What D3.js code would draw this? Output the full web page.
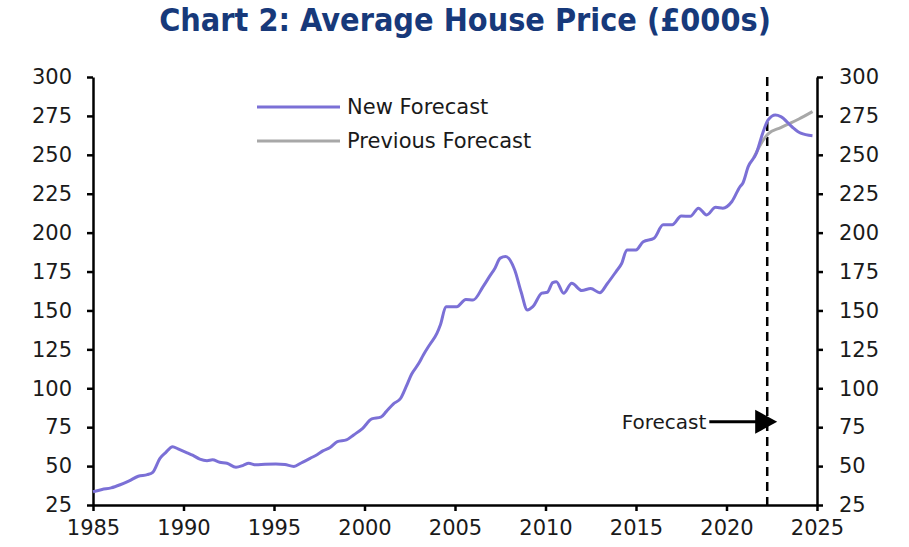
<!DOCTYPE html>
<html><head><meta charset="utf-8">
<script src="https://cdn.jsdelivr.net/npm/d3@7"></script>
<style>
html,body{margin:0;padding:0;background:#fff;}
svg{display:block;}
text{font-family:"DejaVu Sans",sans-serif;fill:#1a1a1a;}
</style></head>
<body>
<svg id="chart" width="909" height="547"></svg>
<script>
const titleText = "Chart 2: Average House Price (£000s)";
const newYears = [1985.0,1985.5,1986.0,1986.5,1987.0,1987.5,1988.0,1988.3,1988.7,1989.0,1989.4,1989.7,1990.2,1990.5,1990.9,1991.3,1991.6,1992.0,1992.4,1992.9,1993.3,1993.6,1994.0,1994.5,1995.1,1995.6,1996.1,1996.5,1997.0,1997.4,1997.7,1998.1,1998.5,1999.0,1999.4,1999.9,2000.4,2000.9,2001.2,2001.6,2002.0,2002.3,2002.6,2003.0,2003.25,2003.6,2004.0,2004.2,2004.5,2005.1,2005.6,2006.0,2006.55,2006.9,2007.2,2007.5,2007.8,2008.3,2008.65,2009.0,2009.3,2009.8,2010.1,2010.4,2010.6,2011.0,2011.45,2012.0,2012.5,2013.0,2013.4,2013.9,2014.2,2014.5,2015.0,2015.4,2016.0,2016.5,2017.0,2017.5,2018.0,2018.45,2018.9,2019.4,2019.8,2020.3,2020.75,2020.9,2021.2,2021.65,2022.0,2022.3,2022.7,2023.0,2023.6,2024.1,2024.75];
const newValues = [33.5,35,36,38,40.5,43.5,44.5,46,55,58.5,62.5,61,58.5,57,54.5,53.5,54,52.5,51.8,49.3,50.5,51.8,50.8,51.2,51.4,51,49.8,52,55,57.5,59.8,62,65.7,66.8,70,74.3,80.3,81.4,85,90,93.6,101,109,116,121.4,128,135.3,141,152.4,152.4,157.1,156.7,165.3,171.7,177,183.6,184.6,176,162,150.3,152.4,161.1,161.7,167.9,168.5,161.1,167.5,162.8,164.1,161.4,167,175,180,188.9,188.9,194.2,196.4,205,205,210.7,210.5,215.7,211.4,216.3,215.7,220,229.6,231.7,242.4,251,263.9,272.4,275.6,274.6,268.2,263.9,262.2];
const prevYears = [2021.5,2022.0,2022.3,2023.0,2024.0,2024.75];
const prevValues = [248,259,263.5,267.5,273,277.8];
const xTicks = [1985,1990,1995,2000,2005,2010,2015,2020,2025];
const yTicks = [25,50,75,100,125,150,175,200,225,250,275,300];
const seriesNames = ["New Forecast","Previous Forecast"];
const forecastYear = 2022.25;
const forecastLabel = "Forecast";
const arrowStart = 2019.05, arrowEnd = 2022.8, arrowValue = 78.5;

const svg = d3.select("#chart");
const x = d3.scaleLinear().domain([1985,2025]).range([93,817]);
const y = d3.scaleLinear().domain([25,300]).range([505,77]);
const purple = "#7b70d6", grey = "#a8a8a8";

// title
const t = svg.append("text").attr("x",465).attr("y",31).attr("text-anchor","middle")
  .style("font-family","'DejaVu Sans Condensed','DejaVu Sans',sans-serif")
  .style("font-weight","bold").style("font-size","32px").style("fill","#17397a").text(titleText);
const w = t.node().getComputedTextLength();
t.style("font-size",(32*612/w)+"px");

// axes
const fs = "21px";
const left = svg.append("g").attr("transform","translate(93,0)")
  .call(d3.axisLeft(y).tickValues(yTicks).tickSize(6).tickPadding(15).tickSizeOuter(0));
const right = svg.append("g").attr("transform","translate(817,0)")
  .call(d3.axisRight(y).tickValues(yTicks).tickSize(6).tickPadding(16).tickSizeOuter(0));
const bottom = svg.append("g").attr("transform","translate(0,505)")
  .call(d3.axisBottom(x).tickValues(xTicks).tickFormat(d3.format("d")).tickSize(6).tickPadding(9).tickSizeOuter(0));
[left,right,bottom].forEach(g=>{
  g.selectAll("path.domain").attr("stroke","#000").attr("stroke-width",2.5);
  g.selectAll(".tick line").attr("stroke","#000").attr("stroke-width",2.5);
  g.selectAll(".tick text").style("font-size",fs).style("font-family","'DejaVu Sans',sans-serif").attr("fill","#1a1a1a");
});

// dashed forecast line
svg.append("line").attr("x1",x(forecastYear)).attr("x2",x(forecastYear)).attr("y1",y(300)).attr("y2",y(25))
  .attr("stroke","#000").attr("stroke-width",2.5).attr("stroke-dasharray","9,6");

const line = d3.line().x(d=>x(d[0])).y(d=>y(d[1])).curve(d3.curveMonotoneX);
svg.append("path").datum(prevYears.map((d,i)=>[d,prevValues[i]]))
  .attr("d",line).attr("fill","none").attr("stroke",grey).attr("stroke-width",3);
svg.append("path").datum(newYears.map((d,i)=>[d,newValues[i]]))
  .attr("d",line).attr("fill","none").attr("stroke",purple).attr("stroke-width",3).attr("stroke-linejoin","round");

// legend
const leg = [[seriesNames[0],purple,107],[seriesNames[1],grey,141]];
leg.forEach(l=>{
  svg.append("line").attr("x1",257).attr("x2",340).attr("y1",l[2]).attr("y2",l[2]).attr("stroke",l[1]).attr("stroke-width",3);
  svg.append("text").attr("x",347).attr("y",l[2]).attr("dy","0.35em").style("font-size",fs).text(l[0]);
});

// forecast arrow
const ay = y(arrowValue);
svg.append("text").attr("x",x(arrowStart)-3).attr("y",ay).attr("dy","0.35em").attr("text-anchor","end").style("font-size","20px").text(forecastLabel);
svg.append("line").attr("x1",x(arrowStart)).attr("x2",x(arrowEnd)-20).attr("y1",ay).attr("y2",ay).attr("stroke","#000").attr("stroke-width",3);
const tip = x(arrowEnd);
svg.append("path").attr("d",`M${tip},${ay} L${tip-22},${ay-12} L${tip-22},${ay+12} Z`).attr("fill","#000");
</script>
</body></html>
